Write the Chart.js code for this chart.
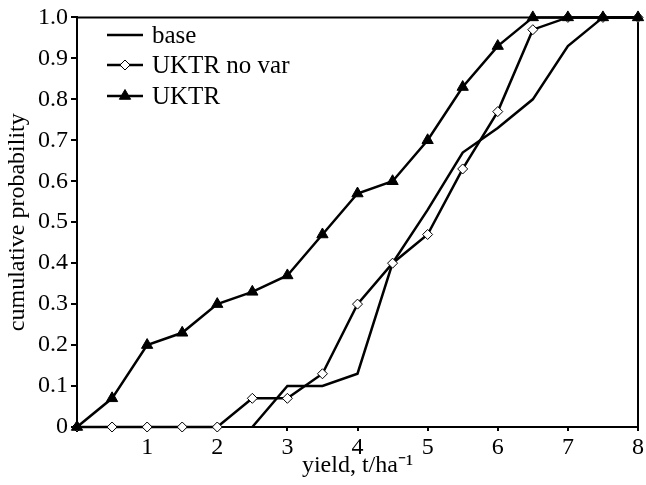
<!DOCTYPE html>
<html>
<head>
<meta charset="utf-8">
<title>cumulative probability</title>
<script src="https://cdn.jsdelivr.net/npm/chart.js@4.4.1/dist/chart.umd.min.js"></script>
<style>
  html, body { margin: 0; padding: 0; background: #fff; }
  canvas { display: block; }
</style>
</head>
<body>
<canvas id="cdfChart" width="646" height="485"></canvas>
<script>
// yield values (t/ha) where each curve is sampled
const yieldValues = [0, 0.5, 1, 1.5, 2, 2.5, 3, 3.5, 4, 4.5, 5, 5.5, 6, 6.5, 7, 7.5, 8];

// cumulative probability for each run (null = not drawn)
const baseValues = [null, null, null, null, null, 0, 0.10, 0.10, 0.13, 0.40, 0.53, 0.67, 0.73, 0.80, 0.93, 1.0, 1.0];
const uktrNoVarValues = [0, 0, 0, 0, 0, 0.07, 0.07, 0.13, 0.30, 0.40, 0.47, 0.63, 0.77, 0.97, 1.0, 1.0, 1.0];
const uktrValues = [0, 0.07, 0.20, 0.23, 0.30, 0.33, 0.37, 0.47, 0.57, 0.60, 0.70, 0.83, 0.93, 1.0, 1.0, 1.0, 1.0];

const seriesNames = ["base", "UKTR no var", "UKTR"];

const FONT = "'Liberation Serif', 'Times New Roman', serif";

// pair up x and y arrays for a linear x scale
function toPoints(values) {
  return yieldValues.map((x, i) => ({ x: x, y: values[i] }));
}

// draws the top and right sides of the plot box
const framePlugin = {
  id: "frame",
  beforeDatasetsDraw(chart) {
    const { ctx, chartArea } = chart;
    ctx.save();
    ctx.strokeStyle = "#000";
    ctx.lineWidth = 2;
    ctx.beginPath();
    ctx.moveTo(chartArea.left, chartArea.top);
    ctx.lineTo(chartArea.right, chartArea.top);
    ctx.lineTo(chartArea.right, chartArea.bottom);
    ctx.stroke();
    ctx.restore();
  },
};

// legend in the top left corner of the plot, one row per dataset
const insideLegend = {
  id: "insideLegend",
  afterDatasetsDraw(chart) {
    const ctx = chart.ctx;
    const rows = [35, 65, 96];
    ctx.save();
    chart.data.datasets.forEach((ds, i) => {
      const y = rows[i];
      const x0 = 107, x1 = 143;
      ctx.strokeStyle = "#000";
      ctx.lineWidth = ds.borderWidth;
      ctx.beginPath();
      ctx.moveTo(x0, y);
      ctx.lineTo(x1, y);
      ctx.stroke();
      if (ds.pointRadius > 0) {
        ctx.fillStyle = ds.pointBackgroundColor;
        ctx.strokeStyle = ds.pointBorderColor;
        ctx.lineWidth = ds.pointBorderWidth;
        Chart.helpers.drawPoint(ctx, {
          pointStyle: ds.pointStyle,
          radius: ds.pointRadius,
          borderWidth: ds.pointBorderWidth,
          rotation: 0,
        }, (x0 + x1) / 2, y);
      }
      ctx.fillStyle = "#000";
      ctx.font = "25px " + FONT;
      ctx.textBaseline = "middle";
      ctx.textAlign = "left";
      ctx.fillText(ds.label, 152, y + 1);
    });
    ctx.restore();
  },
};

const chartElement = document.getElementById("cdfChart");
new Chart(chartElement, {
  type: "line",
  data: {
    datasets: [
      {
        label: seriesNames[0],
        data: toPoints(baseValues),
        borderColor: "#000",
        borderWidth: 2.5,
        pointRadius: 0,
        tension: 0,
        clip: false,
        order: 2,
      },
      {
        label: seriesNames[1],
        data: toPoints(uktrNoVarValues),
        borderColor: "#000",
        borderWidth: 2.5,
        pointStyle: "rectRot",
        pointRadius: 5,
        pointBackgroundColor: "#fff",
        pointBorderColor: "#000",
        pointBorderWidth: 1,
        tension: 0,
        clip: false,
        order: 1,
      },
      {
        label: seriesNames[2],
        data: toPoints(uktrValues),
        borderColor: "#000",
        borderWidth: 2.5,
        pointStyle: "triangle",
        pointRadius: 6.5,
        pointBackgroundColor: "#000",
        pointBorderColor: "#000",
        pointBorderWidth: 1,
        tension: 0,
        clip: false,
        order: 0,
      },
    ],
  },
  options: {
    responsive: false,
    animation: false,
    layout: { padding: { top: 10, right: 7, left: 0, bottom: 0 } },
    plugins: {
      legend: { display: false },
      tooltip: { enabled: false },
    },
    scales: {
      x: {
        type: "linear",
        min: 0,
        max: 8,
        afterFit: (scale) => { scale.height = 58; },
        ticks: {
          stepSize: 1,
          color: "#000",
          padding: 2,
          font: { family: FONT, size: 24 },
          callback: (v) => (v === 0 ? "" : v),
        },
        grid: {
          drawOnChartArea: false,
          color: "#000",
          lineWidth: 2,
          tickLength: 4,
        },
        border: { color: "#000", width: 2 },
        title: {
          display: true,
          text: "yield, t/ha\u207B\u00B9",
          color: "#000",
          font: { family: FONT, size: 24 },
          padding: { top: 0, bottom: 5 },
        },
      },
      y: {
        min: 0,
        max: 1,
        afterFit: (scale) => { scale.width = 77; },
        ticks: {
          stepSize: 0.1,
          color: "#000",
          padding: 3,
          font: { family: FONT, size: 24 },
          callback: (v) => (v === 0 ? "0" : v.toFixed(1)),
        },
        grid: {
          drawOnChartArea: false,
          color: "#000",
          lineWidth: 2,
          tickLength: 6,
        },
        border: { color: "#000", width: 2 },
        title: {
          display: true,
          text: "cumulative probability",
          color: "#000",
          font: { family: FONT, size: 24 },
          padding: { top: 3, bottom: 0 },
        },
      },
    },
  },
  plugins: [framePlugin, insideLegend],
});
</script>
</body>
</html>
